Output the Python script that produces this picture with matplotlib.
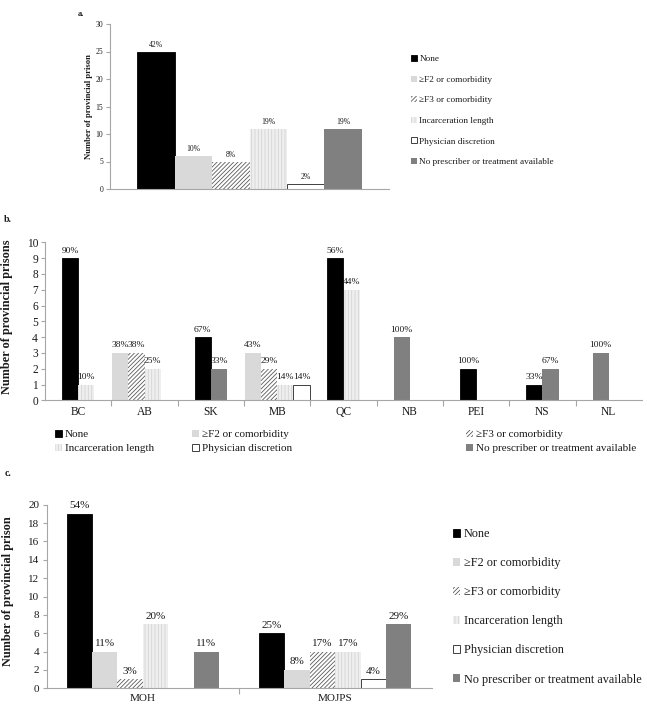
import math
import matplotlib
matplotlib.use("Agg")
import matplotlib.pyplot as plt
from matplotlib.patches import Patch

plt.rcParams['font.family'] = ['Liberation Serif', 'DejaVu Serif']
plt.rcParams['hatch.linewidth'] = 0.6

# ---------------- data ----------------
series = ["None", "\u2265F2 or comorbidity", "\u2265F3 or comorbidity",
          "Incarceration length", "Physician discretion",
          "No prescriber or treatment available"]

# panel a
a_values = [25, 6, 5, 11, 1, 11]
a_pct = ["42%", "10%", "8%", "19%", "2%", "19%"]

# panel b (per series, per province)
provinces = ["BC", "AB", "SK", "MB", "QC", "NB", "PEI", "NS", "NL"]
b_none = [9, 0, 4, 0, 9, 0, 2, 1, 0]
b_f2 = [0, 3, 0, 3, 0, 0, 0, 0, 0]
b_f3 = [0, 3, 0, 2, 0, 0, 0, 0, 0]
b_incar = [1, 2, 0, 1, 7, 0, 0, 0, 0]
b_phys = [0, 0, 0, 1, 0, 0, 0, 0, 0]
b_nopres = [0, 0, 2, 0, 0, 4, 0, 2, 3]
b_none_pct = ["90%", "", "67%", "", "56%", "", "100%", "33%", ""]
b_f2_pct = ["", "38%", "", "43%", "", "", "", "", ""]
b_f3_pct = ["", "38%", "", "29%", "", "", "", "", ""]
b_incar_pct = ["10%", "25%", "", "14%", "44%", "", "", "", ""]
b_phys_pct = ["", "", "", "14%", "", "", "", "", ""]
b_nopres_pct = ["", "", "33%", "", "", "100%", "", "67%", "100%"]

# panel c
ministries = ["MOH", "MOJPS"]
c_moh = [19, 4, 1, 7, 0, 4]
c_mojps = [6, 2, 4, 4, 1, 7]
c_moh_pct = ["54%", "11%", "3%", "20%", "", "11%"]
c_mojps_pct = ["25%", "8%", "17%", "17%", "4%", "29%"]

# ---------------- styles ----------------
styles = [
    dict(facecolor="black", edgecolor="black", linewidth=0.6),
    dict(facecolor="#d9d9d9", edgecolor="#d9d9d9", linewidth=0),
    dict(facecolor="white", edgecolor="#5a5a5a", hatch="////////", linewidth=0),
    dict(facecolor="#efefef", edgecolor="#d4d4d4", hatch="|||||", linewidth=0),
    dict(facecolor="white", edgecolor="#404040", linewidth=0.7),
    dict(facecolor="#808080", edgecolor="#808080", linewidth=0),
]
AX_GRAY = "#a6a6a6"
TXT = "#1a1a1a"

W, H = 647, 707
fig = plt.figure(figsize=(W / 100, H / 100), dpi=100)


def frame(ax, fs):
    for s in ["top", "right"]:
        ax.spines[s].set_visible(False)
    for s in ["left", "bottom"]:
        ax.spines[s].set_color(AX_GRAY)
        ax.spines[s].set_linewidth(0.8)
    ax.tick_params(axis="y", colors=AX_GRAY, labelcolor=TXT, labelsize=fs,
                   length=3, width=0.8, pad=2)


def handles():
    return [Patch(**st) for st in styles]


# ---------------- panel a ----------------
axa = fig.add_axes([110 / W, 1 - 189 / H, 279 / W, 165 / H])
frame(axa, 5.5)
wa = 0.1344
for i, (v, p) in enumerate(zip(a_values, a_pct)):
    x = (i - 2.5) * wa
    axa.bar(x, v, width=wa, **styles[i])
    axa.annotate(p, (x, v), xytext=(0, 2), textcoords="offset points",
                 ha="center", va="bottom", fontsize=5.5, color=TXT)
axa.set_xlim(-0.5, 0.5)
axa.set_ylim(0, 30)
axa.set_yticks(range(0, 31, 5))
axa.set_xticks([])
axa.set_ylabel("Number of provincial prison", fontsize=6.2, fontweight="bold",
               color=TXT)
axa.yaxis.set_label_coords(-0.061, 0.5)
fig.text(78 / W, 1 - 14 / H, "a.", fontsize=6, fontweight="bold",
         ha="left", va="center", color=TXT)
fig.legend(handles(), series, loc="upper left",
           bbox_to_anchor=(411 / W, 1 - 55 / H), frameon=False,
           fontsize=6.7, labelspacing=1.33, handlelength=0.6,
           handleheight=0.6, handletextpad=0.3, borderpad=0,
           borderaxespad=0, labelcolor=TXT)

# ---------------- panel b ----------------
axb = fig.add_axes([45 / W, 1 - 400.3 / H, 597 / W, 158 / H])
frame(axb, 8.3)
wb = 0.246
b_vals = [b_none, b_f2, b_f3, b_incar, b_phys, b_nopres]
b_pcts = [b_none_pct, b_f2_pct, b_f3_pct, b_incar_pct, b_phys_pct, b_nopres_pct]
for j in range(len(provinces)):
    present = [k for k in range(len(series)) if b_vals[k][j] > 0]
    n = len(present)
    start = j - math.ceil(n / 2) * wb
    for m, k in enumerate(present):
        x = start + (m + 0.5) * wb
        v = b_vals[k][j]
        axb.bar(x, v, width=wb, **styles[k])
        axb.annotate(b_pcts[k][j], (x, v), xytext=(0, 2.5),
                     textcoords="offset points", ha="center", va="bottom",
                     fontsize=6.8, color=TXT)
axb.set_xlim(-0.5, len(provinces) - 0.5)
axb.set_ylim(0, 10)
axb.set_yticks(range(0, 11))
axb.set_xticks(range(len(provinces)))
axb.set_xticklabels(provinces)
axb.set_xticks([j + 0.5 for j in range(len(provinces) - 1)], minor=True)
axb.tick_params(axis="x", which="major", length=0, labelsize=8.3,
                labelcolor=TXT, pad=4)
axb.tick_params(axis="x", which="minor", length=4, color=AX_GRAY, width=0.8)
axb.set_ylabel("Number of provincial prisons", fontsize=8.8, fontweight="bold",
               color=TXT)
axb.yaxis.set_label_coords(-0.054, 0.53)
fig.text(4 / W, 1 - 220 / H, "b.", fontsize=7, fontweight="bold",
         ha="left", va="center", color=TXT)
hb = handles()
for col, xpx in enumerate([55, 192, 466]):
    fig.legend([hb[col], hb[col + 3]], [series[col], series[col + 3]],
               loc="upper left", bbox_to_anchor=(xpx / W, 1 - 430 / H),
               frameon=False, fontsize=8, labelspacing=0.4,
               handlelength=0.6, handleheight=0.6, handletextpad=0.3,
               borderpad=0, borderaxespad=0, labelcolor=TXT)

# ---------------- panel c ----------------
axc = fig.add_axes([46.5 / W, 1 - 688.3 / H, 385 / W, 183.6 / H])
frame(axc, 8)
wc = 0.132
for j, (vals, pcts) in enumerate([(c_moh, c_moh_pct), (c_mojps, c_mojps_pct)]):
    for i, (v, p) in enumerate(zip(vals, pcts)):
        if v <= 0:
            continue
        x = j + (i - 2.5) * wc
        axc.bar(x, v, width=wc, **styles[i])
        axc.annotate(p, (x, v), xytext=(0, 2.5), textcoords="offset points",
                     ha="center", va="bottom", fontsize=8, color=TXT)
axc.set_xlim(-0.5, 1.5)
axc.set_ylim(0, 20)
axc.set_yticks(range(0, 21, 2))
axc.set_xticks([0, 1])
axc.set_xticklabels(ministries)
axc.set_xticks([0.5], minor=True)
axc.tick_params(axis="x", which="major", length=0, labelsize=8,
                labelcolor=TXT, pad=4)
axc.tick_params(axis="x", which="minor", length=4, color=AX_GRAY, width=0.8)
axc.set_ylabel("Number of provincial prison", fontsize=8.8, fontweight="bold",
               color=TXT)
axc.yaxis.set_label_coords(-0.084, 0.527)
fig.text(5 / W, 1 - 473 / H, "c.", fontsize=7, fontweight="bold",
         ha="left", va="center", color=TXT)
fig.legend(handles(), series, loc="upper left",
           bbox_to_anchor=(453 / W, 1 - 528 / H), frameon=False,
           fontsize=8.8, labelspacing=1.4, handlelength=0.6,
           handleheight=0.6, handletextpad=0.3, borderpad=0,
           borderaxespad=0, labelcolor=TXT)

fig.savefig("out.png", dpi=100, facecolor="white")
